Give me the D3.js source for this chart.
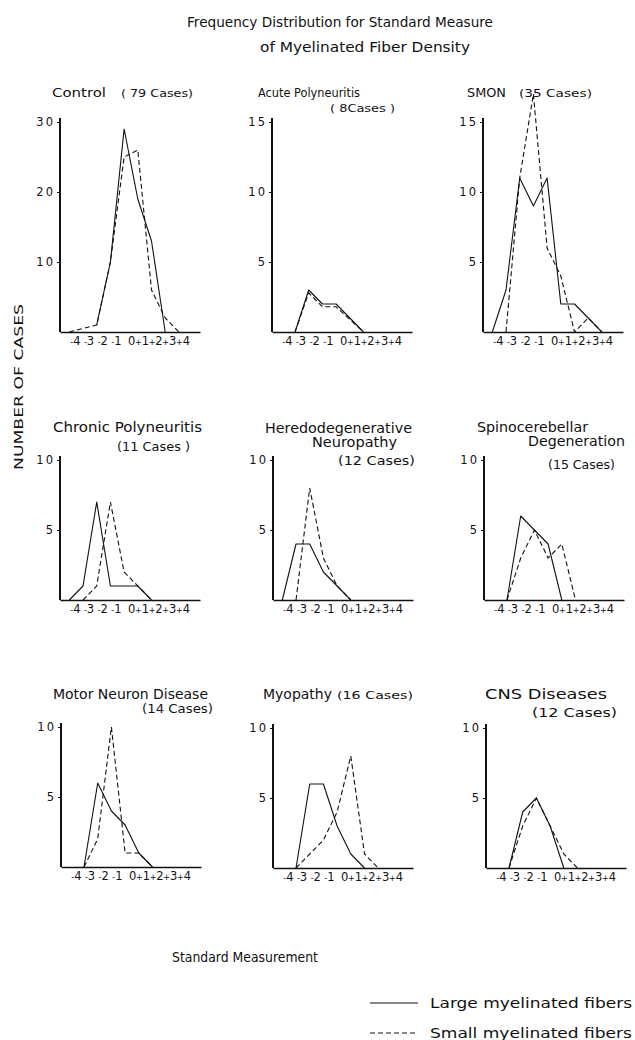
<!DOCTYPE html>
<html><head><meta charset="utf-8">
<script src="https://cdn.jsdelivr.net/npm/d3@7"></script>
<style>
body{margin:0;background:#fff;}
svg{display:block;font-family:"DejaVu Sans",sans-serif;}
</style></head><body>
<svg id="c" width="635" height="1040"></svg>
<script>
// ---- data ----
const classMids = [-4.5,-3.5,-2.5,-1.5,-0.5,0.5,1.5,2.5,3.5];
const xTickValues = [-4,-3,-2,-1,0,1,2,3,4];
const xTickSigns  = ["-","-","-","-","","+","+","+","+"];
const xTickDigits = ["4","3","2","1","0","1","2","3","4"];

const panelNames = ["Control","Acute Polyneuritis","SMON","Chronic Polyneuritis","Heredodegenerative Neuropathy","Spinocerebellar Degeneration","Motor Neuron Disease","Myopathy","CNS Diseases"];
const panelCases = [79,8,35,11,12,15,14,16,12];
const yMax   = [30,15,15,10,10,10,10,10,10];
const yTicks = [[10,20,30],[5,10,15],[5,10,15],[5,10],[5,10],[5,10],[5,10],[5,10],[5,10]];

const controlLarge  = [null,null,1,10,29,19,13,0,null];
const controlSmall  = [0,null,1,10,25,26,6,2,0];
const acuteLarge    = [null,0,3,2,2,1,0,null,null];
const acuteSmall    = [null,0,2.8,1.8,1.8,0.9,0,null,null];
const smonLarge     = [0,3,11,9,11,2,2,1,0];
const smonSmall     = [null,0,11,17,6,4,0,1,0];
const chronicLarge  = [0,1,7,1,1,1,0,null,null];
const chronicSmall  = [null,0,1,7,2,1,0,null,null];
const heredoLarge   = [0,4,4,2,1,0,null,null,null];
const heredoSmall   = [null,0,8,3,1,0,null,null,null];
const spinoLarge    = [null,0,6,5,4,0,null,null,null];
const spinoSmall    = [null,0,3,5,3,4,0,null,null];
const motorLarge    = [null,0,6,4,3,1,0,null,null];
const motorSmall    = [null,0,2,10,1,1,0,null,null];
const myoLarge      = [null,0,6,6,3,1,0,null,null];
const myoSmall      = [null,0,1,2,4,8,1,0,null];
const cnsLarge      = [null,0,4,5,3,0,null,null,null];
const cnsSmall      = [null,0,3,5,3,1,0,null,null];

const largeSeries = [controlLarge,acuteLarge,smonLarge,chronicLarge,heredoLarge,spinoLarge,motorLarge,myoLarge,cnsLarge];
const smallSeries = [controlSmall,acuteSmall,smonSmall,chronicSmall,heredoSmall,spinoSmall,motorSmall,myoSmall,cnsSmall];

const titleLines = [
  ["Control","( 79 Cases)"],
  ["Acute Polyneuritis","( 8Cases )"],
  ["SMON","(35 Cases)"],
  ["Chronic Polyneuritis","(11 Cases )"],
  ["Heredodegenerative","Neuropathy","(12 Cases)"],
  ["Spinocerebellar","Degeneration","(15 Cases)"],
  ["Motor Neuron Disease","(14 Cases)"],
  ["Myopathy","(16 Cases)"],
  ["CNS  Diseases","(12 Cases)"]
];
const chartTitle = ["Frequency Distribution for Standard Measure","of Myelinated Fiber Density"];
const xAxisTitle = "Standard Measurement";
const yAxisTitle = "NUMBER OF CASES";
const legendLabels = ["Large myelinated fibers","Small myelinated fibers"];

// ---- layout ----
const panelLayout = [
  {ax:60, base:332, h:210},{ax:272, base:332, h:210},{ax:483, base:332, h:210},
  {ax:60, base:600, h:140},{ax:273, base:600, h:140},{ax:484, base:600, h:140},
  {ax:61, base:867, h:140},{ax:273, base:868, h:140},{ax:486, base:868, h:140}
];
const titlePos = [
  [[52,97,12.5,54],[121,97,11,72]],
  [[258,97,12.5,102],[330,112,11,65]],
  [[467,97,12.5,39],[519,97,11,73]],
  [[53,432,14,149],[117,451,12,73]],
  [[265,433,14,147],[312,447,14,85],[338,465,12,77]],
  [[477,432,14,111],[528,446,14,97],[548,469,12,67]],
  [[53,699,14,155],[142,713,12,71]],
  [[263,699,14,69],[337,699,11,76]],
  [[485,699,14,122],[532,717,13,85]]
];
const axisLen = 140;

const svg = d3.select("#c");
const ink = "#111";

function txt(g, s, x, y, fs, w){
  const t = g.append("text").attr("x",x).attr("y",y).attr("font-size",fs).attr("fill",ink).text(s);
  if (w) t.attr("textLength",w).attr("lengthAdjust","spacingAndGlyphs");
  return t;
}

// chart title
txt(svg, chartTitle[0], 187, 27, 13.5, 306);
txt(svg, chartTitle[1], 260, 52, 13.5, 210);

panelLayout.forEach((L, i) => {
  const g = svg.append("g");
  const x = d3.scaleLinear().domain([-5.18, 5.04]).range([L.ax, L.ax + axisLen]);
  const y = d3.scaleLinear().domain([0, yMax[i]]).range([L.base, L.base - L.h]);

  // y axis line
  g.append("line").attr("x1",L.ax).attr("x2",L.ax).attr("y1",L.base).attr("y2",y(yMax[i]) - 4)
    .attr("stroke",ink).attr("stroke-width",2);
  // y ticks
  const ya = g.append("g").attr("transform",`translate(${L.ax},0)`)
    .call(d3.axisLeft(y).tickValues(yTicks[i]).tickSize(3).tickPadding(2).tickFormat(d3.format("d")));
  ya.select(".domain").remove();
  ya.selectAll("line").attr("stroke",ink).attr("stroke-width",1);
  ya.selectAll("text").attr("font-size",11.5).attr("letter-spacing","2px").attr("fill",ink)
    .attr("font-family","DejaVu Sans");

  // x axis
  const xa = g.append("g").attr("transform",`translate(0,${L.base})`)
    .call(d3.axisBottom(x).tickValues(xTickValues).tickSize(0).tickSizeOuter(0).tickPadding(6).tickFormat(() => ""));
  xa.select(".domain").attr("stroke",ink).attr("stroke-width",1.6);
  xa.selectAll(".tick text").each(function(d, k){
    const t = d3.select(this).text(null).attr("text-anchor","end").attr("dx","3.8px")
      .attr("font-family","DejaVu Sans").attr("fill",ink);
    if (xTickSigns[k]) t.append("tspan").attr("font-size",8).text(xTickSigns[k]);
    t.append("tspan").attr("font-size",11.5).text(xTickDigits[k]);
  });

  const line = d3.line().x(d => x(d[0])).y(d => y(d[1]));
  const toPts = arr => classMids.map((m, k) => [m, arr[k]]).filter(p => p[1] !== null);

  g.append("path").attr("d", line(toPts(largeSeries[i])))
    .attr("fill","none").attr("stroke",ink).attr("stroke-width",1.1).attr("stroke-linejoin","round");
  g.append("path").attr("d", line(toPts(smallSeries[i])))
    .attr("fill","none").attr("stroke",ink).attr("stroke-width",1.1).attr("stroke-dasharray","5,3");

  // titles
  titleLines[i].forEach((s, k) => {
    const p = titlePos[i][k];
    txt(g, s, p[0], p[1], p[2], p[3]);
  });
});

// axis titles
txt(svg, xAxisTitle, 172, 962, 14, 146);
svg.append("text").attr("transform","translate(23,387) rotate(-90)").attr("text-anchor","middle")
  .attr("font-size",12.5).attr("fill",ink).attr("textLength",166).attr("lengthAdjust","spacingAndGlyphs")
  .text(yAxisTitle);

// legend
const lx = d3.scaleLinear().domain([0,1]).range([370,418]);
svg.append("line").attr("x1",lx(0)).attr("x2",lx(1)).attr("y1",1003).attr("y2",1003)
  .attr("stroke",ink).attr("stroke-width",1.1);
svg.append("line").attr("x1",lx(0)).attr("x2",lx(1)).attr("y1",1033).attr("y2",1033)
  .attr("stroke",ink).attr("stroke-width",1.1).attr("stroke-dasharray","5,3");
txt(svg, legendLabels[0], 430, 1008, 14, 202);
txt(svg, legendLabels[1], 430, 1038, 14, 202);
</script>
</body></html>
